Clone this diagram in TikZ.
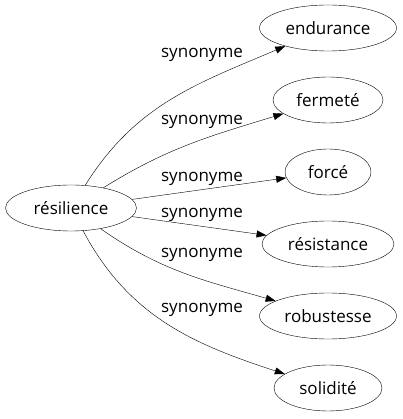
\documentclass[tikz,border=0pt]{standalone}
\usepackage{fontspec}
\setmainfont{Open Sans}
\usetikzlibrary{shapes.geometric, arrows.meta, positioning}
\begin{document}
\begin{tikzpicture}[x=1pt, y=1pt, ->, >={Triangle[length=10pt, width=7pt]}, shorten >=0pt,
    word/.style={ellipse, draw, inner sep=0pt, minimum height=46pt, font=\fontsize{17}{20}\selectfont},
    rel/.style={font=\fontsize{17}{20}\selectfont, inner sep=1pt},
    node distance = 72pt]
    \useasboundingbox (0,0) rectangle (402,419);
    \node [word, minimum width=131pt] (resilience) at (71,211) {résilience};
    \node [word, minimum width=137pt] (endurance) at (328,391) {endurance};
    \node [word, minimum width=110pt] (fermete) [below of=endurance] {fermeté};
    \node [word, minimum width=86pt] (force) [below of=fermete] {forcé};
    \node [word, minimum width=132pt] (resistance) [below of=force] {résistance};
    \node [word, minimum width=137pt] (robustesse) [below of=resistance] {robustesse};
    \node [word, minimum width=108pt] (solidite) [below of=robustesse] {solidité};
    \node [rel] (syn1) at (202,364) {synonyme};
    \node [rel] (syn2) at (202,297) {synonyme};
    \node [rel] (syn3) at (202,240) {synonyme};
    \node [rel] (syn4) at (202,204) {synonyme};
    \node [rel] (syn5) at (202,164) {synonyme};
    \node [rel] (syn6) at (202,109) {synonyme};
    \path (resilience) edge [out=58, in=203] (endurance);
    \path (resilience) edge [out=32, in=197] (fermete);
    \path (resilience) edge [out=8, in=188] (force);
    \path (resilience) edge [out=-8, in=172] (resistance);
    \path (resilience) edge [out=-35, in=164] (robustesse);
    \path (resilience) edge [out=-62, in=162] (solidite);
\end{tikzpicture}
\end{document}
